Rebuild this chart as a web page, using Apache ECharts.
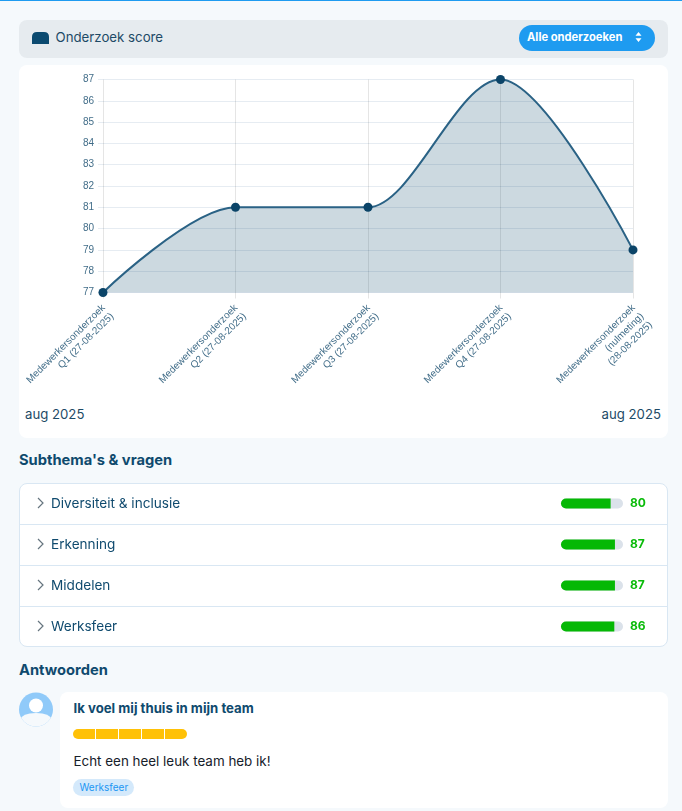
<!DOCTYPE html>
<html lang="nl"><head><meta charset="utf-8">
<script src="https://cdn.jsdelivr.net/npm/echarts@6/dist/echarts.min.js"></script>
<style>
html,body{margin:0;padding:0;width:682px;height:811px;overflow:hidden;background:#f5f9fc;font-family:Inter,"Noto Sans",sans-serif;color:#0f4a6e}
.a{position:absolute}
.t{position:absolute;white-space:nowrap;line-height:1}
#chart{position:absolute;left:0;top:0;width:682px;height:811px;z-index:2}
.chev{position:absolute;left:36px;width:10px;height:12px}
</style></head><body>
<div class="a" style="left:0;top:0;width:682px;height:1px;background:#1e9bf0"></div>
<div class="a" style="left:19px;top:20px;width:649px;height:38px;background:#e6ebef;border-radius:8px"></div>
<svg class="a" style="left:32px;top:32px" width="17" height="12"><path d="M0 12V5Q0 0 5 0H12Q17 0 17 5V12Z" fill="#0b4a70"/></svg>
<div class="t" style="left:55.5px;top:31px;font-size:13.25px;color:#1d4a66">Onderzoek score</div>
<div class="a" style="left:519px;top:25px;width:136px;height:26px;background:#1e9bf0;border-radius:13px"></div>
<div class="t" style="left:527px;top:32px;font-size:11.2px;font-weight:700;color:#fff">Alle onderzoeken</div>
<svg class="a" style="left:635px;top:32px" width="7" height="10"><path d="M3.5 0L6.5 3.8H0.5ZM3.5 10L0.5 6.2H6.5Z" fill="#fff"/></svg>
<div class="a" style="left:19px;top:65px;width:649px;height:373px;background:#fff;border-radius:8px"></div>
<div class="t" style="left:25px;top:408px;font-size:13.2px;color:#1d4a66">aug 2025</div>
<div class="t" style="right:21px;top:408px;font-size:13.2px;color:#1d4a66">aug 2025</div>
<div class="t" style="left:19px;top:453px;font-size:14.7px;font-weight:700;color:#0f4a6e">Subthema's &amp; vragen</div>
<div class="a" style="left:19px;top:483px;width:647px;height:162px;background:#fff;border:1px solid #d9e7f3;border-radius:8px"></div>
<div class="a" style="left:20px;top:524px;width:647px;height:1px;background:#d9e7f3"></div>
<div class="a" style="left:20px;top:565px;width:647px;height:1px;background:#d9e7f3"></div>
<div class="a" style="left:20px;top:606px;width:647px;height:1px;background:#d9e7f3"></div>
<svg class="chev" style="top:497px"><path d="M2 1L7 6L2 11" fill="none" stroke="#66757f" stroke-width="1.2"/></svg>
<svg class="chev" style="top:538px"><path d="M2 1L7 6L2 11" fill="none" stroke="#66757f" stroke-width="1.2"/></svg>
<svg class="chev" style="top:579px"><path d="M2 1L7 6L2 11" fill="none" stroke="#66757f" stroke-width="1.2"/></svg>
<svg class="chev" style="top:620px"><path d="M2 1L7 6L2 11" fill="none" stroke="#66757f" stroke-width="1.2"/></svg>
<div class="t" style="left:19px;top:663px;font-size:14.7px;font-weight:700;color:#0f4a6e">Antwoorden</div>
<svg class="a" style="left:19px;top:692px" width="34" height="35"><defs><clipPath id="c"><circle cx="17" cy="17.5" r="17"/></clipPath></defs><g clip-path="url(#c)"><rect width="34" height="35" fill="#90caf9"/><circle cx="17" cy="13.5" r="7" fill="#fff"/><path d="M1 35V28Q3 21 17 21Q31 21 33 28V35Z" fill="#f5f9fc"/></g></svg>
<div class="a" style="left:60px;top:692px;width:608px;height:116px;background:#fff;border-radius:8px"></div>
<div class="t" style="left:73.5px;top:702px;font-size:13.2px;font-weight:700;color:#0f4a6e">Ik voel mij thuis in mijn team</div>
<div id="rating" class="a" style="left:73px;top:729px;width:114px;height:10px;border-radius:5px;overflow:hidden;display:flex;gap:1px"></div>
<div class="t" style="left:73.5px;top:755px;font-size:13.4px;color:#16202a">Echt een heel leuk team heb ik!</div>
<div class="a" style="left:73px;top:779px;width:61px;height:17px;background:#d4e9fb;border-radius:9px"></div>
<div class="t" style="left:79.5px;top:782px;font-size:10px;color:#2196f3">Werksfeer</div>
<div id="chart"></div>
<script>
const surveyLabels = [
  "Medewerkersonderzoek\nQ1 (27-08-2025)",
  "Medewerkersonderzoek\nQ2 (27-08-2025)",
  "Medewerkersonderzoek\nQ3 (27-08-2025)",
  "Medewerkersonderzoek\nQ4 (27-08-2025)",
  "Medewerkersonderzoek\n(nulmeting)\n(28-08-2025)"
];
const surveyScores = [77, 81, 81, 87, 79];
const subthemes = ["Diversiteit & inclusie", "Erkenning", "Middelen", "Werksfeer"];
const subthemeScores = [80, 87, 87, 86];
const ratingSegments = 5;

const rating = document.getElementById('rating');
for (let i = 0; i < ratingSegments; i++) {
  const s = document.createElement('div');
  s.style.cssText = 'flex:1;background:#ffc107';
  rating.appendChild(s);
}

const chart = echarts.init(document.getElementById('chart'));
const labelFont = '"Liberation Sans",Arial,sans-serif';
chart.setOption({
  animation: false,
  grid: [
    {left: 103, top: 79.5, width: 530, height: 213},
    {left: 561, top: 483, width: 62, height: 164}
  ],
  xAxis: [
    {gridIndex: 0, type: 'category', data: surveyLabels, boundaryGap: false,
     axisLine: {show: false},
     axisTick: {show: true, length: 6, lineStyle: {color: 'rgba(0,0,0,0.1)'}},
     splitLine: {show: true, lineStyle: {color: 'rgba(0,0,0,0.1)', width: 1}},
     axisLabel: {interval: 0, rotate: 45, margin: 6, fontSize: 10, fontFamily: labelFont,
       color: 'rgba(15,70,105,0.8)', lineHeight: 12, align: 'right', verticalAlign: 'top',
       padding: [0, 5, 0, 0]}},
    {gridIndex: 1, type: 'value', min: 0, max: 100, show: false}
  ],
  yAxis: [
    {gridIndex: 0, type: 'value', min: 77, max: 87, interval: 1,
     axisLine: {show: false},
     axisTick: {show: true, length: 5, lineStyle: {color: '#e6ecf2'}},
     splitLine: {show: true, lineStyle: {color: '#e6ecf2', width: 1}},
     axisLabel: {margin: 9, fontSize: 10, fontFamily: labelFont, color: 'rgba(15,70,105,0.8)',
       padding: [2, 0, 0, 0]}},
    {gridIndex: 1, type: 'category', data: subthemes, inverse: true,
     axisLine: {show: false}, axisTick: {show: false}, splitLine: {show: false},
     axisLabel: {interval: 0, margin: 510, align: 'left', fontSize: 13.6, padding: [2, 0, 0, 0],
       fontFamily: 'Inter,sans-serif', color: '#0f4a6e'}},
    {gridIndex: 1, type: 'category', position: 'right', data: subthemeScores.map(String), inverse: true,
     axisLine: {show: false}, axisTick: {show: false}, splitLine: {show: false},
     axisLabel: {interval: 0, margin: 7, align: 'left', fontSize: 12, fontWeight: 700,
       fontFamily: 'Inter,sans-serif', color: '#0abb0a'}}
  ],
  series: [
    {type: 'line', xAxisIndex: 0, yAxisIndex: 0, data: surveyScores,
     smooth: 0.33, smoothMonotone: 'x', clip: false,
     symbol: 'circle', symbolSize: 9,
     itemStyle: {color: '#0b4468'},
     lineStyle: {color: '#2a6285', width: 2},
     areaStyle: {color: 'rgba(0,63,102,0.2)', opacity: 1}},
    {type: 'bar', xAxisIndex: 1, yAxisIndex: 1, data: subthemeScores, barWidth: 10,
     showBackground: true,
     backgroundStyle: {color: '#dbe2ea', borderRadius: 5},
     itemStyle: {color: '#05b805', borderRadius: [5, 0, 0, 5]}}
  ]
});
</script>
</body></html>
